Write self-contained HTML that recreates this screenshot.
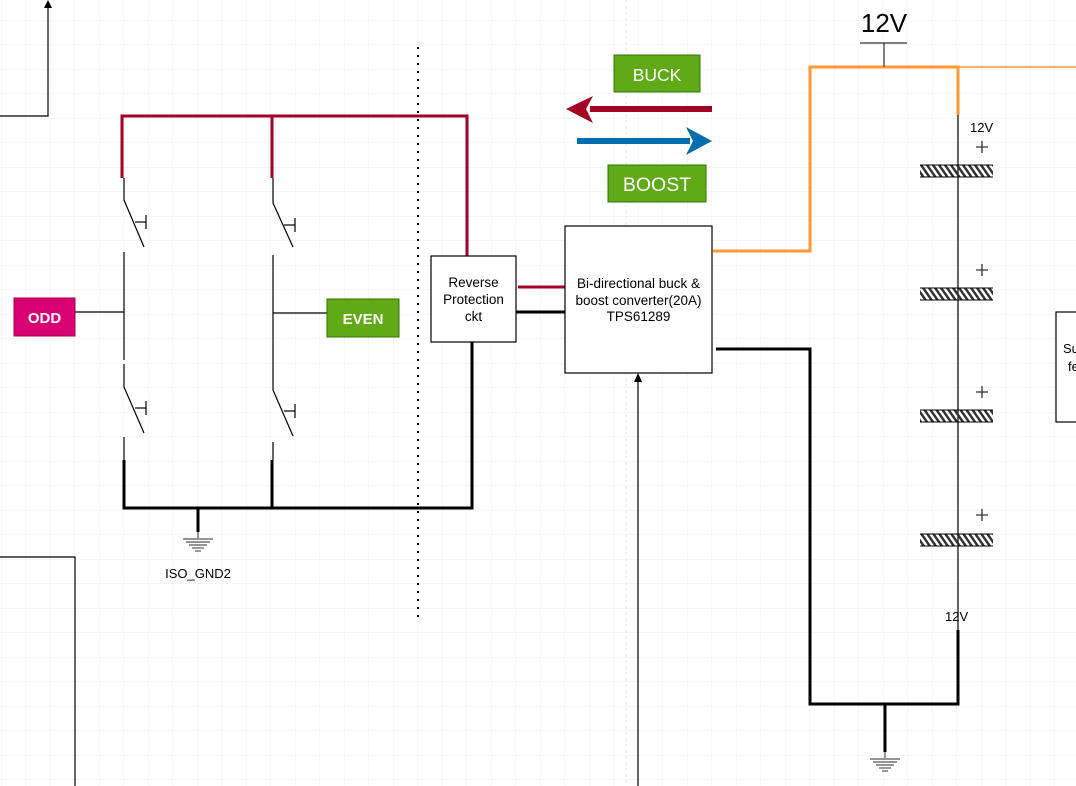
<!DOCTYPE html>
<html><head><meta charset="utf-8"><style>
html,body{margin:0;padding:0;background:#fff;}
svg{display:block;font-family:"Liberation Sans",Arial,sans-serif;}
</style></head><body>
<svg width="1076" height="786" viewBox="0 0 1076 786" xmlns="http://www.w3.org/2000/svg">
<defs>
<pattern id="g" width="24.5" height="24.5" patternUnits="userSpaceOnUse" x="1.5" y="-4">
<path d="M24.5 0V24.5H0" fill="none" stroke="#ededed" stroke-width="1"/>
</pattern>
<pattern id="h" width="6" height="12" patternUnits="userSpaceOnUse" patternTransform="skewX(35)">
<rect width="3" height="12" fill="#333"/>
</pattern>
</defs>
<rect width="1076" height="786" fill="url(#g)"/>
<line x1="626" y1="0" x2="626" y2="786" stroke="#e6e6e6" stroke-dasharray="3,3"/>

<polyline points="0,116 48,116 48,6" fill="none" stroke="#000" stroke-width="1.2"/>
<polygon points="48,0 44,8 52,8" fill="#000"/>
<polyline points="0,557 75,557 75,786" fill="none" stroke="#000" stroke-width="1.2"/>

<polyline points="122,178 122,116 467,116 467,256" fill="none" stroke="#a20025" stroke-width="3"/>
<line x1="272" y1="116" x2="272" y2="178" stroke="#a20025" stroke-width="3"/>
<line x1="518" y1="287" x2="565" y2="287" stroke="#a20025" stroke-width="3"/>

<g stroke="#000" stroke-width="1.2" fill="none">
<polyline points="124,178 124,200 144,247"/>
<polyline points="135,222 146,222"/><line x1="146" y1="215" x2="146" y2="229"/>
<line x1="124" y1="252" x2="124" y2="360"/>
<polyline points="124,364 124,387 144,433"/>
<polyline points="135,408 146,408"/><line x1="146" y1="401" x2="146" y2="415"/>
<line x1="124" y1="437" x2="124" y2="460"/>
<polyline points="273,178 273,203 293,247"/>
<polyline points="284,225 295,225"/><line x1="295" y1="218" x2="295" y2="232"/>
<polyline points="273,255 273,390 293,436"/>
<polyline points="284,411 295,411"/><line x1="295" y1="404" x2="295" y2="418"/>
<line x1="273" y1="442" x2="273" y2="460"/>
<line x1="75" y1="312" x2="124" y2="312"/>
<line x1="273" y1="313" x2="327" y2="313"/>
</g>
<polyline points="124,460 124,508 472,508 472,342" fill="none" stroke="#000" stroke-width="3"/>
<line x1="272" y1="460" x2="272" y2="508" stroke="#000" stroke-width="3"/>
<line x1="516" y1="312" x2="565" y2="312" stroke="#000" stroke-width="3"/>
<line x1="198" y1="508" x2="198" y2="532" stroke="#000" stroke-width="3"/>
<g stroke="#555" stroke-width="1.2">
<line x1="198" y1="532" x2="198" y2="538"/>
<line x1="183" y1="539" x2="213" y2="539"/>
<line x1="186" y1="542" x2="210" y2="542"/>
<line x1="189" y1="545" x2="207" y2="545"/>
<line x1="192" y1="548" x2="204" y2="548"/>
<line x1="195" y1="551" x2="201" y2="551"/>
</g>
<text x="198" y="578" font-size="13" text-anchor="middle">ISO_GND2</text>

<line x1="418" y1="47" x2="418" y2="620" stroke="#000" stroke-width="2" stroke-dasharray="2,6"/>

<rect x="14" y="298" width="61" height="38" fill="#d80073" stroke="#a50040"/>
<text x="44.5" y="323" font-size="15" font-weight="bold" fill="#fff" text-anchor="middle">ODD</text>
<rect x="327" y="299" width="72" height="38" fill="#60a917" stroke="#2d7600"/>
<text x="363" y="324" font-size="15" font-weight="bold" fill="#fff" text-anchor="middle">EVEN</text>
<rect x="614" y="55" width="86" height="37" fill="#60a917" stroke="#2d7600"/>
<text x="657" y="81" font-size="17.5" fill="#fff" text-anchor="middle">BUCK</text>
<rect x="608" y="165" width="98" height="37" fill="#60a917" stroke="#2d7600"/>
<text x="657" y="191" font-size="19.5" fill="#fff" text-anchor="middle">BOOST</text>

<line x1="712" y1="109" x2="590" y2="109" stroke="#a20025" stroke-width="6"/>
<polygon points="566,109 593,96 586,109 593,123" fill="#a20025"/>
<line x1="577" y1="141" x2="690" y2="141" stroke="#006eaf" stroke-width="6"/>
<polygon points="712,141 686,127 693,141 686,155" fill="#006eaf"/>

<rect x="431" y="256" width="85" height="86" fill="#fff" stroke="#000" stroke-width="1.2"/>
<text font-size="13.5" text-anchor="middle"><tspan x="473.5" y="287">Reverse</tspan><tspan x="473.5" y="304">Protection</tspan><tspan x="473.5" y="321">ckt</tspan></text>
<rect x="565" y="226" width="147" height="147" fill="#fff" stroke="#000" stroke-width="1.2"/>
<text font-size="13.5" text-anchor="middle"><tspan x="638.5" y="288">Bi-directional buck &amp;</tspan><tspan x="638.5" y="305">boost converter(20A)</tspan><tspan x="638.5" y="321">TPS61289</tspan></text>
<line x1="638" y1="786" x2="638" y2="380" stroke="#000" stroke-width="1.2"/>
<polygon points="638,373 634,382 642,382" fill="#000"/>

<polyline points="713,251 810,251 810,67 958,67 958,115" fill="none" stroke="#ff9933" stroke-width="3"/>
<line x1="958" y1="67" x2="1076" y2="67" stroke="#ff9933" stroke-width="1.5"/>
<line x1="860" y1="43" x2="907" y2="43" stroke="#333" stroke-width="1.2"/>
<line x1="884" y1="43" x2="884" y2="67" stroke="#333" stroke-width="1.2"/>
<text x="884" y="32" font-size="26" text-anchor="middle">12V</text>

<line x1="958" y1="115" x2="958" y2="630" stroke="#000" stroke-width="1.2"/>
<g>
<rect x="920" y="165" width="73" height="12" fill="url(#h)"/><line x1="920" y1="165" x2="993" y2="165" stroke="#000"/><line x1="920" y1="177" x2="993" y2="177" stroke="#000"/>
<rect x="920" y="288" width="73" height="12" fill="url(#h)"/><line x1="920" y1="288" x2="993" y2="288" stroke="#000"/><line x1="920" y1="300" x2="993" y2="300" stroke="#000"/>
<rect x="920" y="410" width="73" height="12" fill="url(#h)"/><line x1="920" y1="410" x2="993" y2="410" stroke="#000"/><line x1="920" y1="422" x2="993" y2="422" stroke="#000"/>
<rect x="920" y="534" width="73" height="12" fill="url(#h)"/><line x1="920" y1="534" x2="993" y2="534" stroke="#000"/><line x1="920" y1="546" x2="993" y2="546" stroke="#000"/>
</g>
<g stroke="#333" stroke-width="1.3">
<path d="M976 147H988M982 141V153"/>
<path d="M976 270H988M982 264V276"/>
<path d="M976 392H988M982 386V398"/>
<path d="M976 515H988M982 509V521"/>
</g>
<text x="970" y="132" font-size="13">12V</text>
<text x="945" y="621" font-size="13">12V</text>

<polyline points="958,630 958,704 810,704 810,349 716,349" fill="none" stroke="#000" stroke-width="3"/>
<line x1="885" y1="704" x2="885" y2="752" stroke="#000" stroke-width="3"/>
<g stroke="#555" stroke-width="1.2">
<line x1="885" y1="752" x2="885" y2="758"/>
<line x1="870" y1="759" x2="900" y2="759"/>
<line x1="873" y1="762" x2="897" y2="762"/>
<line x1="876" y1="765" x2="894" y2="765"/>
<line x1="879" y1="768" x2="891" y2="768"/>
<line x1="882" y1="771" x2="888" y2="771"/>
</g>

<rect x="1056" y="312" width="40" height="110" fill="#fff" stroke="#000" stroke-width="1.2"/>
<text x="1063" y="353" font-size="13">Su</text>
<text x="1068" y="371" font-size="13">fe</text>
</svg>
</body></html>
